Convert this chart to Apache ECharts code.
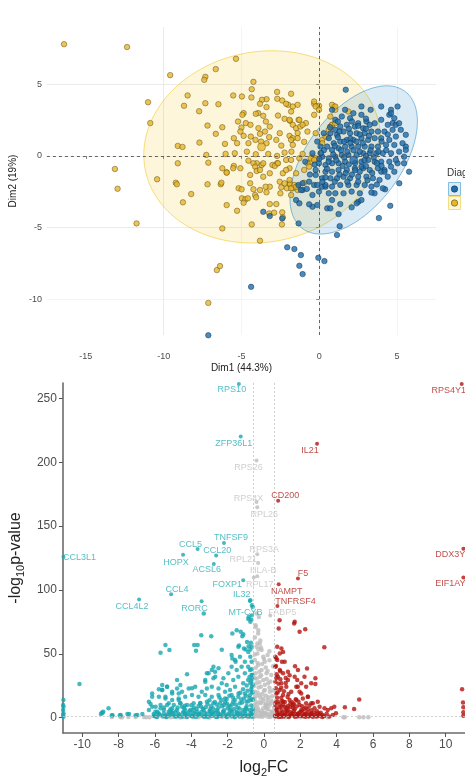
<!DOCTYPE html>
<html><head><meta charset="utf-8">
<script src="https://cdn.jsdelivr.net/npm/echarts@6.0.0/dist/echarts.min.js"></script>
<style>html,body{margin:0;padding:0;background:#fff}#c{width:465px;height:780px}</style>
</head><body><div id="c"></div>
<script>
// ================= PCA (top) =================
const pcaXTicks = [-15, -10, -5, 0, 5];
const pcaYTicks = [-10, -5, 0, 5];
const pcaXTitle = 'Dim1 (44.3%)';
const pcaYTitle = 'Dim2 (19%)';
const legendTitle = 'Diagnosis';

const pcaYellow = [
[-16.4,7.8],[-12.35,7.6],[-9.58,5.64],[-11.0,3.75],[-10.86,2.29],[-8.46,4.22],[-8.69,3.5],[-7.32,5.52],[-7.39,5.31],[-6.65,6.06],[-5.35,6.78],[-7.32,3.68],[-6.48,3.61],[-7.72,3.12],[-7.18,2.12],[-9.09,0.7],[-8.79,0.63],[-7.7,0.93],[-9.09,-0.51],[-7.26,0.07],[-7.13,-0.47],[-10.42,-1.63],[-13.13,-0.91],[-12.96,-2.29],[-9.22,-1.87],[-9.15,-1.98],[-8.23,-2.66],[-7.18,-1.98],[-6.33,-1.98],
[-5.53,4.22],[-4.97,4.15],[-4.36,4.08],[-4.34,4.66],[-4.23,5.17],[-2.71,4.47],[-1.81,4.34],[-3.39,3.96],[-3.68,3.92],[-2.7,3.99],[-2.38,3.87],
[-4.86,2.99],[-4.94,2.87],[-3.81,3.64],[-3.39,3.41],[-3.93,2.99],[-2.0,3.57],
[-5.22,2.40],[-4.72,2.29],[-4.42,2.17],[-4.08,2.94],[-3.6,2.80],[-3.43,2.40],[-3.18,2.05],[-2.65,2.82],[-2.23,2.59],[-1.88,2.45],[-1.70,2.17],[-1.33,2.52],[-0.86,2.29],[-0.33,2.87],[-0.02,3.50],[-0.33,3.64],
[-5.0,1.98],[-5.07,1.70],[-4.86,1.40],[-4.4,1.35],[-3.91,1.94],[-3.81,1.54],[-3.49,1.70],[-3.22,1.31],[-2.54,1.59],[-1.91,1.40],[-1.49,1.94],[-1.22,2.05],[-0.76,1.70],[-0.23,1.59],
[-6.65,1.54],[-6.23,2.0],[-6.06,0.84],[-5.49,1.24],[-5.28,0.89],[-4.55,0.89],[-4.1,1.12],[-3.74,1.0],[-3.39,0.89],[-2.76,1.12],[-2.44,0.72],[-1.70,1.24],[-0.97,0.98],
[-6.02,0.14],[-5.43,0.19],[-4.65,0.30],[-4.08,0.12],[-3.28,0.14],[-2.71,0],[-2.23,0.23],[-1.79,0.30],[-1.07,0.14],[-0.44,-0.05],[0.08,0.19],
[-5.95,-1.14],[-5.49,-0.7],[-5.07,-0.86],[-4.44,-1.33],[-4.02,-0.51],[-3.70,-0.63],[-3.01,-0.63],[-2.71,-0.51],[-2.34,-1.21],[-1.91,-0.86],[-1.49,-1.21],[-0.97,-0.98],[-0.55,-0.4],[-0.23,-0.16],
[-6.29,-1.87],[-5.18,-2.26],[-4.44,-1.91],[-3.81,-2.38],[-3.18,-2.15],[-2.54,-1.80],[-1.91,-1.91],[-1.39,-2.15],[-0.97,-1.87],
[-4.97,-2.96],[-4.75,-3.03],
[0.19,1.12],[0.51,1.35],[0.71,2.05],[0.93,3.45],[1.03,3.22],[1.87,3.10],[0.71,2.75],[0.82,2.17],
[-11.74,-4.71],[-8.76,-3.24],
[-4.99,-2.33],[-4.23,-2.33],[-3.45,-2.15],[-2.44,-2.19],[-2.08,-2.26],[-2.5,-2.61],
[-4.59,-2.96],[-4.12,-2.73],[-4.06,-2.89],[-4.86,-3.27],[-3.39,-2.54],
[-5.95,-3.43],[-5.28,-3.83],[-3.18,-3.36],[-3.22,-4.01],[-2.76,-3.36],[-2.9,-3.96],[-2.38,-3.94],
[-2.34,-4.29],[-4.34,-4.78],[-6.23,-5.06],[-2.40,-4.78],
[-3.81,-5.92],[-6.58,-7.97],[-6.38,-7.69],[-7.13,-10.26],
[-1.88,-1.96],[-1.7,-2.26],[-2.23,-1.91],
[-6.23,-0.86],[-5.95,-1.17],[-5.53,-0.86],[-4.55,-0.33],[-4.23,-0.51],[-4.12,-0.75],[-3.6,-0.51],[-4.02,-1.05],[-3.81,-0.98],[-3.60,-1.45],[-3.18,-1.21],[-2.86,-0.7],[-2.65,-0.51],
[-2.13,3.64],[-1.70,3.45],[-1.39,3.57],[-1.81,3.10],[-1.91,2.52],[-1.28,2.52],[-1.07,2.17],[-1.39,1.59],[-1.81,1.12],[-1.39,1.24],[-1.70,0.77],[-2.13,-0.28],[-1.81,-0.28],[-1.28,-0.16],[-2.13,-0.98],[-1.91,-1.68],[-1.6,-2.03],[-1.39,-2.38],[-1.81,-2.26],
[-0.55,-0.16],[-0.76,-0.51],[-0.33,-0.28],[-0.65,-0.75],[0.19,0.89],[0.40,1.35],[0.61,1.82],[0.82,2.17],[1.03,2.29],[-0.33,3.80],[-0.23,3.45],[-0.02,3.22],[0.82,3.57],[1.03,3.45],[-1.49,-2.15],[-1.81,-2.73]
];

const pcaBlue = [
[1.70,4.62],[4.61,3.22],[5.03,3.45],[4.50,2.87],[4.72,2.29],[4.92,2.17],[5.56,0.65],[5.45,-0.51],[5.03,-0.51],[5.77,-1.1],[5.14,-1.91],[4.19,-0.98],[3.98,-1.1],
[-3.6,-3.9],[-3.18,-4.2],[-2.38,-4.36],[-1.33,-4.71],
[-2.06,-6.38],[-1.6,-6.5],[-1.18,-6.92],[-1.28,-7.67],[-1.07,-8.25],[-0.06,-7.11],[0.33,-7.34],[-4.38,-9.14],[-7.13,-12.52],
[1.14,-5.52],[1.31,-4.90],[3.83,-4.34],[4.56,-3.48],[4.23,-2.33],[3.55,-2.61],[3.35,-2.56],[2.51,-3.20],[2.71,-3.08],[2.40,-3.31],[2.08,-3.59],[1.24,-4.06],[1.35,-3.36],[0.51,-3.66],[0.71,-3.66],[0.82,-3.08],[-0.13,-3.43],[-0.44,-3.55],[-0.33,-2.03],[0.19,-2.15],[0.40,-2.15],[-1.34,-2.03],[-1.07,-2.38],[-1.49,-3.08],[-1.28,-3.31],[-0.65,-3.38],
[0.82,3.22],[1.98,2.63],[2.19,2.98],[2.71,2.87],[3.30,3.22],[3.98,3.45],[4.61,2.98],[4.82,2.63],[5.13,2.28],[3.98,2.52],[4.40,2.17],[3.56,2.28],[3.03,2.40],[2.50,2.28],[2.82,1.93],[2.29,2.05],[1.77,2.17],[1.35,2.05],[1.03,1.82],[0.72,1.59],[0.61,1.24],[1.14,1.47],[1.56,1.70],[1.98,1.59],[2.40,1.59],[2.92,1.59],[3.35,1.70],[3.77,1.70],[4.19,1.70],[4.71,1.82],[5.24,1.82],[5.56,1.47],[4.92,1.35],[4.50,1.12],[3.98,1.24],[3.56,1.24],[3.14,1.12],[2.71,1.24],[2.19,1.12],[1.77,1.12],[1.35,1.00],[0.93,0.89],[0.51,0.65],[0.82,0.42],[1.24,0.54],[1.66,0.65],[2.08,0.65],[2.50,0.65],[2.92,0.65],[3.35,0.65],[3.77,0.65],[4.29,0.77],[4.82,0.77],[5.35,0.89],[5.56,0.42],[5.13,0.30],[4.61,0.19],[4.08,0.19],[3.66,0.19],[3.24,0.19],[2.82,0.19],[2.40,0.07],[1.87,0.07],[1.45,0.07],[1.03,-0.05],[0.61,-0.16],[0.19,-0.05],[-0.02,-0.51],[0.40,-0.63],[0.82,-0.51],[1.24,-0.51],[1.66,-0.40],[2.71,-0.40],[3.14,-0.28],[3.56,-0.40],[3.98,-0.40],[4.50,-0.40],[4.92,-0.28],[0.40,-1.10],[0.82,-1.10],[1.24,-0.98],[1.77,-0.98],[2.29,-0.86],[2.82,-0.86],[3.24,-0.98],[3.77,-0.86],[4.19,-1.10],[4.61,-0.75],[4.82,-1.10],[-0.23,-1.33],[0.19,-1.56],[0.72,-1.56],[1.14,-1.56],[1.56,-1.45],[1.98,-1.56],[2.50,-1.45],[3.03,-1.45],[3.45,-1.56],[3.87,-1.68],[4.40,-1.45],[-1.07,-1.91],[-0.65,-1.80],[-0.13,-2.03],[0.40,-2.03],[0.82,-2.14],[1.35,-2.03],[1.87,-2.03],[2.40,-2.03],[2.92,-2.03],[3.35,-2.14],[4.08,-2.26],[-0.02,-2.49],[0.61,-2.61],[1.03,-2.61],[1.56,-2.61],[2.08,-2.49],[2.61,-2.61],[-0.44,-2.73],[-1.18,-2.38],[2.71,-0.75],[-0.23,-0.98],[-0.44,0.19],[0.08,0.65],[-0.13,1.00],[0.29,1.59],[1.03,2.52],[1.45,2.75],[2.71,3.45],[1.66,3.22],[3.24,2.17],[5.45,-0.05],
[1.2,1.3],[1.6,1.0],[2.0,1.2],[2.4,1.0],[2.8,0.9],[3.2,1.4],[1.4,0.4],[1.8,0.3],[2.2,0.4],[2.6,0.3],[3.0,0.0],[3.5,-0.1],[1.1,-0.3],[1.5,-0.7],[1.9,-0.6],[2.3,-0.5],[2.6,-1.1],[3.0,-0.7],[3.4,-1.2],[1.3,-1.3],[1.7,-1.2],[2.1,-1.3],[2.5,-1.8],[0.9,0.1],[0.6,-0.4],[0.5,-0.9],[3.8,0.3],[4.0,1.0],[1.9,1.9],[2.5,2.1],[3.0,2.6],[1.2,2.4],[0.7,2.0],[0.3,0.4],[0.0,-0.2],[-0.3,-0.6],[0.2,-1.8],[1.0,-1.8],[2.0,0.9],[2.6,1.5],[1.6,-0.1],[2.9,-0.3],[3.3,0.4],[1.0,0.7],[2.3,-1.0],[3.7,-0.5],[4.3,0.4],[4.0,-0.7],[1.3,1.7],[2.1,2.4],[0.4,-1.5],[-0.6,-1.3],[-0.8,-2.3],[1.8,-1.8],[3.1,-1.7],[3.7,-2.0],[3.0,1.9],[4.4,1.5],[0.1,0.2],[-0.9,-0.4]
];
const pcaYellowMean = [[-3.71, 0.63]];
const pcaBlueMean = [[2.21, -0.28]];
// confidence ellipses: centre + two conjugate semi-axis vectors (data units)
const ellipseYellow = {center: [-3.67, 0.63], u: [7.58, 0], v: [0.63, 6.71]};
const ellipseBlue = {center: [2.21, -0.28], u: [3.34, 4.75], v: [2.37, -2.05]};

// ================= Volcano (bottom) =================
const volXTicks = [-10, -8, -6, -4, -2, 0, 2, 4, 6, 8, 10];
const volYTicks = [0, 50, 100, 150, 200, 250];
const fcCut = 0.585;
const pCut = 1.3;

const volDown = [
[-11.03,13.8],[-11.03,8.6],[-11.03,3.4],[-11.03,0.8],[-11.05,9.9],[-11.05,6.0],[-11.05,2.0],
[-10.15,26.3],[-8.97,2.9],[-8.88,3.9],[-8.55,7.3],[-8.33,1.9],[-7.93,1.9],[-7.51,2.9],[-7.06,1.9],[-6.69,2.9],
[-8.92,3.9],[-8.84,4.7],[-8.37,1.9],[-7.88,2.1],[-7.42,2.9],[-6.97,2.1],
[-6.24,10.7],[-6.15,19.0],[-6.06,2.9],[-5.78,22.2],[-5.6,25.6],[-5.69,50.8],[-5.42,56.8],[-5.2,52.9],
[-5.42,16.4],[-5.24,11.2],[-5.05,7.3],[-4.87,4.7],[-4.69,13.8],[-4.51,8.6],[-4.33,6.0],[-4.69,19.0],[-4.6,25.5],[-4.23,33.9],[-3.96,23.0],[-3.84,56.8],[-3.74,52.4],[-3.65,56.8],[-3.45,64.6],
[-3.23,29.5],[-3.05,34.7],[-2.87,37.3],[-2.68,32.0],[-2.9,63.8],[-2.32,53.1],[-1.74,65.9],[-1.50,68.5],[-1.74,46.4],[-1.56,43.8],[-1.28,67.2],[-1.19,63.8],[-1.10,54.2],[-1.01,53.4],[-1.37,56.5],[-0.93,59.3],[-0.84,56.0],[-0.75,53.4],[-0.84,78.9],[-0.70,76.8],[-0.75,75.0],[-0.62,86.7],[-0.75,92.0],[-0.66,88.0],[-0.86,77.3],[-3.31,81.6],
[-6.33,12.5],[-6.15,16.4],[-5.60,21.6],[-5.33,24.2],[-5.69,7.3],[-5.24,4.7],[-5.05,19.0],[-4.78,29.5],[-4.60,11.2],[-6.33,6.0],[-6.15,8.6],[-5.97,4.7],
[-1.14,65.4],[-1.41,55.5],[-0.72,58.6],[-0.68,55.5],[-0.86,51.5],[-0.75,47.6],[-0.68,43.7],
[-1.78,49.0],[-1.59,45.1],[-1.32,47.7],[-1.05,43.8],[-0.87,39.9],[-1.23,39.9],[-1.50,37.3],[-1.78,39.9],[-1.96,34.7],[-2.23,30.8],[-2.50,38.6],[-2.78,39.9],[-2.69,36.0],[-3.14,34.7],[-3.23,28.1],[-2.78,30.8],[-2.32,26.9],[-2.05,25.5],[-1.69,29.5],[-1.41,32.1],[-1.05,34.7],[-0.77,37.3],[-0.68,33.4],[-0.87,29.5],[-1.14,26.9],[-1.59,24.2],[-1.87,21.6],[-2.14,20.3],[-2.50,22.9],[-2.87,24.2],[-3.14,22.9],[-3.42,20.3],[-3.78,24.2],[-4.14,22.9],[-4.51,20.3],[-4.78,22.9],[-5.05,20.3],[-5.33,24.2],[-5.60,21.6],[-5.78,16.4],[-5.42,15.1],[-5.05,13.8],[-4.69,15.1],[-4.33,16.4],[-3.96,17.7],[-3.60,16.4],[-3.23,17.7],[-2.87,16.4],[-2.50,17.7],[-2.14,15.1],[-1.78,17.7],[-1.41,16.4],[-1.05,19.0],[-0.68,20.3],[-0.68,13.8],[-0.96,12.5],[-1.32,11.2],[-1.69,12.5],[-2.05,11.2],[-2.41,11.2],[-2.78,11.2],[-3.14,12.5],[-3.51,11.2],[-3.87,11.2],[-4.23,9.9],[-4.60,11.2],[-4.96,9.9],[-5.33,9.9],[-5.69,9.9],[-5.96,8.6],[-5.87,4.7],[-5.51,6.0],[-5.14,4.7],[-4.78,6.0],[-4.42,4.7],[-4.05,6.0],[-3.69,4.7],[-3.32,6.0],[-2.96,4.7],[-2.60,6.0],[-2.23,4.7],[-1.87,6.0],[-1.50,4.7],[-1.14,6.0],[-0.77,6.0],[-0.68,2.1],[-1.05,1.4],[-1.41,2.8],[-1.78,1.0],[-2.14,2.5],[-2.50,1.7],[-2.87,3.0],[-3.23,1.2],[-3.60,2.4],[-3.96,1.5],[-4.33,2.9],[-4.69,1.1],[-5.05,2.2],[-5.42,1.3],[-5.78,2.7],[-6.06,1.6],
[-6.0,1.2],[-5.8,3.5],[-5.55,0.9],[-5.3,2.4],[-5.1,4.8],[-4.9,1.5],[-4.7,3.1],[-4.5,0.8],[-4.3,2.2],[-4.1,5.0],[-3.95,1.1],[-3.8,3.3],[-3.6,1.9],[-3.45,4.4],[-3.3,0.9],[-3.15,2.8],[-3.0,5.2],[-2.85,1.4],[-2.7,3.6],[-2.55,0.8],[-2.4,2.5],[-2.25,4.6],[-2.1,1.2],[-1.95,3.2],[-1.8,5.5],[-1.65,1.7],[-1.5,3.9],[-1.35,0.9],[-1.2,2.6],[-1.05,4.8],[-0.9,1.4],[-0.75,3.4],[-0.65,0.8],[-0.62,6.5],
[-4.4,7.5],[-4.0,9.8],[-3.7,6.8],[-3.5,11.5],[-3.2,8.2],[-3.0,13.6],[-2.8,7.1],[-2.6,10.4],[-2.45,15.8],[-2.3,8.9],[-2.15,12.3],[-2.0,7.4],[-1.9,17.2],[-1.75,10.6],[-1.6,13.9],[-1.45,8.0],[-1.3,19.5],[-1.2,11.8],[-1.1,15.0],[-1.0,7.6],[-0.9,21.0],[-0.85,12.9],[-0.78,17.6],[-0.7,9.5],[-0.66,24.3],[-0.62,14.4],[-0.7,28.8],[-0.64,33.5],[-0.68,38.0],[-0.63,19.5],
[-5.9,0.6],[-5.7,1.8],[-5.5,3.2],[-5.35,0.5],[-5.2,1.9],[-5.0,3.6],[-4.85,0.7],[-4.65,2.0],[-4.45,3.9],[-4.25,0.6],[-4.05,1.8],[-3.9,3.4],[-3.75,0.5],[-3.55,2.9],[-3.4,1.6],[-3.25,3.9],[-3.1,0.6],[-2.95,1.9],[-2.8,4.3],[-2.65,0.7],[-2.5,3.1],[-2.35,1.4],[-2.2,5.8],[-2.05,0.6],[-1.9,2.2],[-1.75,4.0],[-1.6,0.6],[-1.45,2.0],[-1.3,3.8],[-1.15,1.1],[-1.0,2.9],[-0.95,6.4],[-0.8,0.9],[-0.7,2.6],[-0.64,4.4],
[-4.2,3.3],[-3.85,7.9],[-3.6,9.1],[-3.35,7.0],[-3.1,10.5],[-2.9,9.0],[-2.7,12.2],[-2.5,8.0],[-2.35,13.9],[-2.2,10.0],[-2.05,14.6],[-1.85,8.8],[-1.7,15.5],[-1.55,10.3],[-1.4,19.0],[-1.25,14.2],[-1.15,22.3],[-1.0,17.2],[-0.95,25.1],[-0.8,15.4],[-0.75,27.0],[-0.7,22.5],[-0.65,30.5],[-0.62,26.0],[-0.8,31.8],[-0.95,9.2],[-1.35,7.2],[-1.65,6.8],[-1.95,9.6],[-2.55,5.1],[-2.95,6.7],[-3.45,8.5],[-3.9,6.0],[-4.35,9.4],[-4.75,8.0],[-5.15,6.6],[-5.5,8.0]
];

const volNS = [
[-0.32,65.9],[-0.23,58.1],[-0.41,55.5],[-0.13,52.9],[-0.36,50.3],[-0.04,47.6],[-0.50,45.1],[0.05,43.8],[-0.32,41.2],[-0.13,37.3],[-0.46,34.7],[0.14,34.7],[-0.23,32.1],[-0.04,29.5],[-0.41,26.9],[0.23,26.9],[-0.17,24.2],[0.05,21.6],[-0.50,20.3],[0.32,20.3],[-0.28,17.7],[-0.04,15.1],[0.19,13.8],[-0.46,12.5],[-0.17,11.2],[0.08,9.9],[0.38,11.2],[-0.36,8.1],[-0.04,7.3],[0.23,6.5],[-0.54,6.0],[-0.23,3.9],[0.08,3.4],[0.41,4.7],[-0.41,1.3],[-0.09,0.8],[0.23,0.8],[0.50,2.1],
[-0.41,81.5],[-0.28,78.9],[-0.46,72.4],[-0.31,68.5],[-0.50,62.8],[-0.36,58.1],[-0.17,55.0],
[-8.37,0.5],[-7.88,0.4],[-7.46,0.6],[-7.06,0.5],[-6.48,0.4],[-5.87,0.5],[-5.14,0.3],[-4.33,0.5],[-3.59,0.4],[4.37,0.3],[4.45,0.4],[5.24,0.3],[5.47,0.3],[5.74,0.3],
[-0.5,2.5],[-0.35,5.2],[-0.2,1.2],[0.0,3.8],[0.15,6.9],[0.3,2.0],[0.45,4.6],[0.55,1.1],[-0.55,9.4],[-0.25,12.0],[0.1,10.3],[0.4,13.2],[-0.45,16.8],[-0.1,18.5],[0.25,16.0],[0.5,21.2],[-0.3,23.6],[0.05,25.8],[0.35,28.3],[-0.5,31.0],[-0.15,33.2],[0.2,36.6],[0.5,40.2],[-0.35,42.8],[0.0,46.0],[-0.5,49.5],[0.3,52.0],[-0.2,60.5],[-0.45,71.0],
[-7.8,0.4],[-6.6,0.6],[-5.4,0.3],[-4.2,0.5],[-3.0,0.2],[-2.0,0.4],[-1.2,0.3],[1.2,0.4],[2.0,0.3],[2.8,0.5],[3.5,0.3],
[-0.55,0.5],[-0.45,3.6],[-0.3,1.0],[-0.15,2.6],[0.05,1.6],[0.2,3.0],[0.35,0.6],[0.5,3.5],[-0.5,7.0],[-0.3,6.2],[-0.1,5.0],[0.12,8.3],[0.3,9.5],[0.55,7.8],[-0.4,10.6],[-0.05,12.8],[0.2,11.0],[0.45,16.8],[-0.52,14.8],[-0.2,15.6],[0.1,17.4],[0.3,23.4],[-0.35,19.8],[0.0,21.0],[-0.55,24.8],[0.15,30.2],[-0.25,27.8],[0.4,33.4],[-0.4,30.4],[0.1,39.2],[-0.25,36.0],[0.3,45.0],[-0.45,39.0],[-0.1,42.0],[0.2,49.0],[-0.3,53.5],
[-6.3,0.3],[-5.0,0.6],[-4.6,0.2],[-3.9,0.4],[-3.3,0.5],[-2.6,0.3],[-2.3,0.5],[-1.6,0.3],[-0.9,0.4]
];

const volUp = [
[0.86,76.3],[0.81,69.8],[0.96,54.2],[1.69,75.0],[1.66,73.7],[1.96,67.3],[2.27,69.2],[3.32,55.2],[0.63,47.6],[0.68,46.3],[0.73,45.1],[0.99,43.7],[1.32,35.9],[1.41,33.3],[1.71,40.3],[2.37,38.5],[1.83,29.5],[1.86,24.3],[2.83,30.8],[2.83,26.4],[2.05,19.0],[2.42,16.4],[2.60,11.2],[3.06,8.6],[3.33,7.3],[3.70,7.3],[3.87,8.6],[3.79,2.1],[4.45,8.1],[4.96,6.8],[5.24,14.3],
[10.9,22.2],[10.95,11.8],[10.97,8.1],[10.97,4.2],[10.97,1.6],
[0.63,39.9],[0.87,37.3],[1.14,43.8],[1.05,34.7],[0.77,32.1],[0.63,28.1],[0.96,26.9],[1.32,29.5],[1.23,24.2],[0.87,21.6],[0.68,19.0],[1.05,17.7],[1.50,20.3],[1.78,24.2],[1.69,32.1],[1.87,37.3],[2.23,32.1],[2.05,26.9],[1.96,20.3],[2.32,24.2],[2.60,26.9],[2.41,16.4],[2.14,15.1],[1.78,13.8],[1.41,13.8],[1.05,12.5],[0.77,12.5],[0.63,9.9],[0.96,8.6],[1.32,9.1],[1.59,9.9],[1.96,9.9],[2.32,11.2],[2.69,11.2],[2.96,12.5],[2.78,7.3],[2.41,6.5],[2.05,6.0],[1.69,6.5],[1.32,6.0],[0.96,5.5],[0.68,6.0],[0.77,2.1],[1.14,2.1],[1.50,2.6],[1.87,2.1],[2.23,2.1],[2.60,2.9],[2.96,3.4],[3.23,2.1],[3.51,6.0],[3.96,3.4],[0.87,50.3],[1.05,51.5],[0.73,55.5],
[0.65,1.0],[0.8,3.3],[0.95,0.7],[1.1,2.4],[1.25,4.9],[1.4,1.3],[1.55,3.2],[1.7,0.8],[1.85,2.6],[2.0,4.4],[2.15,1.1],[2.3,3.0],[2.45,0.9],[2.6,2.2],[2.75,4.0],[2.9,1.0],[3.05,2.7],[3.2,0.6],[0.7,7.2],[0.85,10.5],[1.0,13.1],[1.15,8.4],[1.3,16.2],[1.45,11.0],[1.6,7.8],[1.75,14.4],[0.75,19.8],[0.95,23.5],[1.2,27.1],[0.68,31.0],[0.9,36.3],[0.66,40.5],[1.1,20.6],[2.2,6.5],[2.5,9.3],
[0.62,1.5],[0.72,4.4],[0.82,0.6],[0.9,2.0],[1.0,3.8],[1.08,1.0],[1.18,5.7],[1.28,2.8],[1.36,0.6],[1.46,4.2],[1.55,1.8],[1.64,5.3],[1.73,3.0],[1.82,0.9],[1.92,3.6],[2.02,1.6],[2.1,5.0],[2.2,2.5],[2.28,0.7],[2.38,4.1],[2.5,1.5],[2.58,3.5],[2.68,0.8],[2.8,2.0],[2.92,5.0],[3.0,1.4],[3.12,3.8],[3.3,1.2],[3.45,3.0],[3.6,1.0],[0.64,12.0],[0.72,15.5],[0.66,23.0],[0.8,26.5],[0.7,34.0],[0.85,8.0],[0.95,15.6],[1.05,10.4],[1.15,12.2],[1.25,7.5],[1.35,18.5],[1.45,8.3],[1.55,12.0],[1.65,10.8],[1.8,8.8],[1.9,12.5],[2.1,9.0],[2.3,7.9],[2.6,5.8],[1.2,31.0],[0.9,30.0]
];

const geneNames = ['RPS10','ZFP36L1','IL21','RPS26','CD200','RPS4X','RPL26','TNFSF9','CCL5','CCL20','HOPX','ACSL6','CCL3L1','FOXP1','RPS3A','RPL21','HLA-B','RPL17','F5','NAMPT','TNFRSF4','FABP5','IL32','MT-CYB','CCL4','CCL4L2','RORC','RPS4Y1','DDX3Y','EIF1AY'];
const geneX = [-1.38,-1.28,2.92,-0.41,0.78,-0.41,-0.37,-2.20,-3.65,-2.63,-4.45,-2.76,-11.03,-1.14,-0.37,-0.32,-0.37,-0.56,1.87,0.81,0.74,0.35,-0.78,-0.68,-5.11,-6.87,-3.43,10.88,10.97,10.97];
const geneY = [261.3,220.1,214.4,201.3,169.8,168.8,164.8,136.7,132.0,126.9,127.6,120.3,126.0,107.6,127.9,121.1,110.7,109.7,108.9,104.5,87.5,80.0,91.4,80.2,96.6,92.5,91.2,261.2,132.3,109.7];
const geneGroup = ['down','down','up','ns','up','ns','ns','down','down','down','down','down','down','down','ns','ns','ns','ns','up','up','up','ns','down','down','down','down','down','up','up','up'];

// ---------- styles (kept apart from data) ----------
const labelOffset = {
  'RPS10':[-7,6],'ZFP36L1':[-7,7],'IL21':[-7,7],'RPS26':[-8,7],'CD200':[7,-5],'RPS4X':[-8,-4],'RPL26':[7,7],
  'TNFSF9':[7,-6],'CCL5':[-7,-5],'CCL20':[1,-5],'HOPX':[-7,8],'ACSL6':[-7,6],'CCL3L1':[16,1],'FOXP1':[-16,4],
  'RPS3A':[7,-5],'RPL21':[-15,-3],'HLA-B':[6,-6],'RPL17':[6,7],'F5':[5,-5],'NAMPT':[8,7],'TNFRSF4':[18,-4],
  'FABP5':[12,-3],'IL32':[-8,-6],'MT-CYB':[-6,-3],'CCL4':[6,-5],'CCL4L2':[-7,7],'RORC':[-7,7],
  'RPS4Y1':[-13,6],'DDX3Y':[-13,6],'EIF1AY':[-13,6]
};
const C = {
  blue:'#1d6dab', blueEdge:'#14304a', yellow:'#e7b62a', yellowEdge:'#594812',
  blueFill:'rgba(0,115,194,0.14)', blueLine:'rgba(0,115,194,0.45)',
  yellowFill:'rgba(239,192,0,0.14)', yellowLine:'rgba(239,192,0,0.5)',
  gridMajor:'#e6e6e6', gridMinor:'#f1f1f1', none:'rgba(0,0,0,0)',
  down:'#19a6b0', up:'#b3140f', ns:'#bdbdbd',
  downText:'#2aaeb6', upText:'#b2231d', nsText:'#c3c3c3'
};
const FONT = '"Liberation Sans", Arial, sans-serif';

function ellipseRender(e, fill, stroke) {
  return function (params, api) {
    const pts = [];
    const n = 180;
    for (let i = 0; i < n; i++) {
      const t = i / n * Math.PI * 2;
      pts.push(api.coord([
        e.center[0] + e.u[0] * Math.cos(t) + e.v[0] * Math.sin(t),
        e.center[1] + e.u[1] * Math.cos(t) + e.v[1] * Math.sin(t)
      ]));
    }
    return {type: 'polygon', shape: {points: pts}, style: {fill: fill, stroke: stroke, lineWidth: 1}};
  };
}

const geneData = geneNames.map((n, i) => {
  const g = geneGroup[i];
  return {
    name: n, value: [geneX[i], geneY[i]],
    itemStyle: {color: C[g]},
    label: {offset: labelOffset[n], color: C[g + 'Text']}
  };
});

const chart = echarts.init(document.getElementById('c'), null, {renderer: 'canvas'});
chart.setOption({
  animation: false,
  backgroundColor: '#ffffff',
  textStyle: {fontFamily: FONT},
  grid: [
    {left: 40, right: 29, top: 27, bottom: 445},
    {left: 60, right: 0, top: 383, bottom: 47}
  ],
  xAxis: [
    {
      gridIndex: 0, type: 'value', min: -17.5, max: 7.5, interval: 2.5, offset: 14,
      axisLine: {show: false},
      axisTick: {show: true, customValues: pcaXTicks, length: 3, lineStyle: {color: '#666', width: 0.8}},
      axisLabel: {customValues: pcaXTicks, fontSize: 9, color: '#4d4d4d', margin: 3, fontFamily: FONT},
      splitLine: {show: true, lineStyle: {width: 0.8, color: [C.none, C.gridMajor, C.gridMinor, C.gridMajor, C.gridMinor, C.gridMajor, C.gridMinor, C.gridMajor, C.gridMinor, C.gridMajor, C.none]}},
      name: pcaXTitle, nameLocation: 'middle', nameGap: 14,
      nameTextStyle: {fontSize: 10, color: '#222', fontFamily: FONT}
    },
    {
      gridIndex: 1, type: 'value', min: -11.06, max: 11.06,
      axisLine: {show: true, onZero: false, lineStyle: {color: '#6b6b6b', width: 1.6}},
      axisTick: {show: true, customValues: volXTicks, length: 4, lineStyle: {color: '#555', width: 1}},
      axisLabel: {customValues: volXTicks, fontSize: 12, color: '#4d4d4d', margin: 6, fontFamily: FONT},
      splitLine: {show: false},
      name: '{a|log}{s|2}{a|FC}', nameLocation: 'middle', nameGap: 25,
      nameTextStyle: {rich: {
        a: {fontSize: 16, color: '#222', lineHeight: 20, verticalAlign: 'middle', fontFamily: FONT},
        s: {fontSize: 11, color: '#222', lineHeight: 10, verticalAlign: 'bottom', fontFamily: FONT}
      }}
    }
  ],
  yAxis: [
    {
      gridIndex: 0, type: 'value', min: -12.5, max: 9, interval: 2.5,
      axisLine: {show: false},
      axisTick: {show: true, customValues: pcaYTicks, length: 3, lineStyle: {color: '#666', width: 0.8}},
      axisLabel: {customValues: pcaYTicks, fontSize: 9, color: '#4d4d4d', margin: 5, fontFamily: FONT},
      splitLine: {show: true, lineStyle: {width: 0.8, color: [C.gridMinor, C.gridMajor, C.gridMinor, C.gridMajor, C.gridMinor, C.gridMajor, C.gridMinor, C.gridMajor, C.gridMinor, C.none]}},
      name: pcaYTitle, nameLocation: 'middle', nameGap: 14,
      nameTextStyle: {fontSize: 10, color: '#222', fontFamily: FONT}
    },
    {
      gridIndex: 1, type: 'value', min: -12, max: 262,
      axisLine: {show: true, onZero: false, lineStyle: {color: '#6b6b6b', width: 1.6}},
      axisTick: {show: true, customValues: volYTicks, length: 4, lineStyle: {color: '#555', width: 1}},
      axisLabel: {customValues: volYTicks, fontSize: 12, color: '#4d4d4d', margin: 6, fontFamily: FONT},
      splitLine: {show: false},
      name: '{a|-log}{s|10}{a|p-value}', nameLocation: 'middle', nameGap: 24,
      nameTextStyle: {rich: {
        a: {fontSize: 16, color: '#222', lineHeight: 20, verticalAlign: 'middle', fontFamily: FONT},
        s: {fontSize: 11, color: '#222', lineHeight: 10, verticalAlign: 'bottom', fontFamily: FONT}
      }}
    }
  ],
  series: [
    {type: 'custom', xAxisIndex: 0, yAxisIndex: 0, z: 1, silent: true, data: [ellipseYellow.center],
     renderItem: ellipseRender(ellipseYellow, C.yellowFill, C.yellowLine)},
    {type: 'custom', xAxisIndex: 0, yAxisIndex: 0, z: 1, silent: true, data: [ellipseBlue.center],
     renderItem: ellipseRender(ellipseBlue, C.blueFill, C.blueLine)},
    {type: 'scatter', xAxisIndex: 0, yAxisIndex: 0, z: 3, data: pcaYellow, symbolSize: 5.5, clip: false,
     itemStyle: {color: C.yellow, borderColor: C.yellowEdge, borderWidth: 0.6}},
    {type: 'scatter', xAxisIndex: 0, yAxisIndex: 0, z: 3, data: pcaBlue, symbolSize: 5.5, clip: false,
     itemStyle: {color: C.blue, borderColor: C.blueEdge, borderWidth: 0.6},
     markLine: {silent: true, symbol: ['none', 'none'], label: {show: false},
       lineStyle: {color: '#555', width: 0.9, type: [3, 3]},
       data: [{xAxis: 0}, {yAxis: 0}]}},
    {type: 'scatter', xAxisIndex: 0, yAxisIndex: 0, z: 4, data: pcaYellowMean, symbolSize: 8,
     itemStyle: {color: C.yellow, borderColor: C.yellowEdge, borderWidth: 0.5}},
    {type: 'scatter', xAxisIndex: 0, yAxisIndex: 0, z: 4, data: pcaBlueMean, symbolSize: 8,
     itemStyle: {color: C.blue, borderColor: C.blueEdge, borderWidth: 0.5}},

    {type: 'scatter', xAxisIndex: 1, yAxisIndex: 1, z: 3, data: volNS, symbolSize: 4.5, clip: false,
     itemStyle: {color: C.ns},
     markLine: {silent: true, symbol: ['none', 'none'], label: {show: false},
       lineStyle: {color: '#c4c4c4', width: 0.8, type: [2, 2]},
       data: [{xAxis: -fcCut}, {xAxis: fcCut}, {yAxis: pCut}]}},
    {type: 'scatter', xAxisIndex: 1, yAxisIndex: 1, z: 3, data: volDown, symbolSize: 4.5, clip: false,
     itemStyle: {color: C.down}},
    {type: 'scatter', xAxisIndex: 1, yAxisIndex: 1, z: 3, data: volUp, symbolSize: 4.5, clip: false,
     itemStyle: {color: C.up}},
    {type: 'scatter', xAxisIndex: 1, yAxisIndex: 1, z: 5, data: geneData, symbolSize: 4, clip: false,
     label: {show: true, position: 'inside', formatter: '{b}', fontSize: 9, fontFamily: FONT}}
  ],
  graphic: [
    {type: 'text', left: 447, top: 168, z: 10, style: {text: legendTitle, fontSize: 10, fill: '#333', fontFamily: FONT}},
    {type: 'rect', shape: {x: 448.5, y: 182.5, width: 12, height: 13}, z: 10, style: {fill: '#dcebf6', stroke: '#86bde2', lineWidth: 1}},
    {type: 'circle', shape: {cx: 454.5, cy: 189, r: 3.2}, z: 11, style: {fill: C.blue, stroke: C.blueEdge, lineWidth: 0.6}},
    {type: 'rect', shape: {x: 448.5, y: 196.5, width: 12, height: 13}, z: 10, style: {fill: '#fdf6db', stroke: '#f3dc82', lineWidth: 1}},
    {type: 'circle', shape: {cx: 454.5, cy: 203, r: 3.2}, z: 11, style: {fill: C.yellow, stroke: C.yellowEdge, lineWidth: 0.6}}
  ]
});
</script>
</body></html>
